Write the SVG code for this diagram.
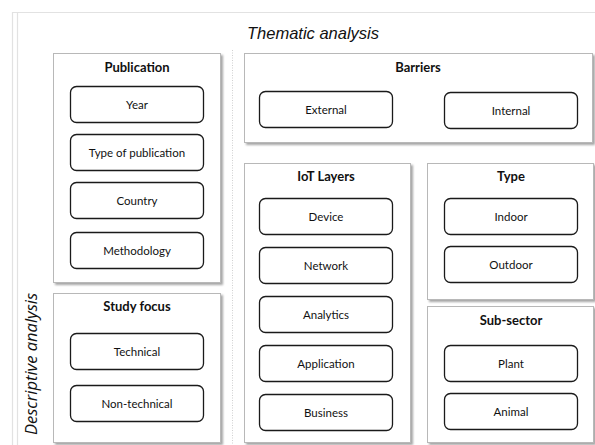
<svg xmlns="http://www.w3.org/2000/svg" width="595" height="445" viewBox="0 0 595 445">
<defs>
<filter id="sh" x="-10%" y="-10%" width="130%" height="130%">
<feDropShadow dx="2" dy="2" stdDeviation="1.2" flood-color="#000" flood-opacity="0.35"/>
</filter>
<style>
.panel{fill:#fff;stroke:#b8b8b8;stroke-width:1;filter:url(#sh)}
.item{fill:#fff;stroke:#1a1a1a;stroke-width:1.3}
.ttl{font-family:Lato,"Open Sans",sans-serif;font-weight:bold;font-size:13px;text-anchor:middle;fill:#111}
.lbl{font-family:Lato,"Open Sans",sans-serif;font-size:11.5px;text-anchor:middle;fill:#111}
.head{font-family:"Liberation Sans",Arial,sans-serif;font-style:italic;font-size:16.5px;text-anchor:middle;fill:#111}
.head2{font-family:"Open Sans",Lato,sans-serif;font-style:italic;font-size:16.5px;text-anchor:middle;fill:#111}
.frame{stroke:#e2e2e2;stroke-width:1.2;fill:none}
</style>
</defs>
<rect width="595" height="445" fill="#fff"/>
<g id="frame">
<line class="frame" x1="12" y1="12.5" x2="595" y2="12.5"/>
<line class="frame" x1="12.5" y1="12" x2="12.5" y2="445"/>
<line class="frame" x1="17.5" y1="12" x2="17.5" y2="445"/>
<line x1="232.5" y1="50" x2="232.5" y2="445" stroke="#d0d0d0" stroke-width="1" stroke-dasharray="1,1.5"/>
</g>
<text class="head" x="313" y="39">Thematic analysis</text>
<text class="head2" transform="translate(37,364) rotate(-90)">Descriptive analysis</text>

<g id="publication">
<rect class="panel" x="53.5" y="53.5" width="167" height="229"/>
<text class="ttl" x="137" y="72">Publication</text>
<rect class="item" x="70.5" y="86.5" width="133" height="36" rx="6"/>
<text class="lbl" x="137" y="108.5">Year</text>
<rect class="item" x="70.5" y="134.5" width="133" height="36" rx="6"/>
<text class="lbl" x="137" y="156.5">Type of publication</text>
<rect class="item" x="70.5" y="182.5" width="133" height="36" rx="6"/>
<text class="lbl" x="137" y="204.5">Country</text>
<rect class="item" x="70.5" y="232.5" width="133" height="36" rx="6"/>
<text class="lbl" x="137" y="254.5">Methodology</text>
</g>

<g id="study-focus">
<rect class="panel" x="53.5" y="293.5" width="167" height="149"/>
<text class="ttl" x="137" y="311">Study focus</text>
<rect class="item" x="70.5" y="333.5" width="133" height="36" rx="6"/>
<text class="lbl" x="137" y="355.5">Technical</text>
<rect class="item" x="70.5" y="385.5" width="133" height="36" rx="6"/>
<text class="lbl" x="137" y="407.5">Non-technical</text>
</g>

<g id="barriers">
<rect class="panel" x="244.5" y="53.5" width="348" height="89"/>
<text class="ttl" x="418" y="72">Barriers</text>
<rect class="item" x="259.5" y="91.5" width="133" height="36" rx="6"/>
<text class="lbl" x="326" y="113.5">External</text>
<rect class="item" x="444.5" y="92.5" width="133" height="36" rx="6"/>
<text class="lbl" x="511" y="114.5">Internal</text>
</g>

<g id="iot-layers">
<rect class="panel" x="244.5" y="163.5" width="166" height="279"/>
<text class="ttl" x="326" y="181">IoT Layers</text>
<rect class="item" x="259.5" y="198.5" width="133" height="36" rx="6"/>
<text class="lbl" x="326" y="220.5">Device</text>
<rect class="item" x="259.5" y="247.5" width="133" height="36" rx="6"/>
<text class="lbl" x="326" y="269.5">Network</text>
<rect class="item" x="259.5" y="296.5" width="133" height="36" rx="6"/>
<text class="lbl" x="326" y="318.5">Analytics</text>
<rect class="item" x="259.5" y="345.5" width="133" height="36" rx="6"/>
<text class="lbl" x="326" y="367.5">Application</text>
<rect class="item" x="259.5" y="394.5" width="133" height="36" rx="6"/>
<text class="lbl" x="326" y="416.5">Business</text>
</g>

<g id="type">
<rect class="panel" x="427.5" y="163.5" width="166" height="136"/>
<text class="ttl" x="511" y="181">Type</text>
<rect class="item" x="444.5" y="198.5" width="133" height="36" rx="6"/>
<text class="lbl" x="511" y="220.5">Indoor</text>
<rect class="item" x="444.5" y="246.5" width="133" height="36" rx="6"/>
<text class="lbl" x="511" y="268.5">Outdoor</text>
</g>

<g id="sub-sector">
<rect class="panel" x="427.5" y="306.5" width="166" height="136"/>
<text class="ttl" x="511" y="325">Sub-sector</text>
<rect class="item" x="444.5" y="345.5" width="133" height="36" rx="6"/>
<text class="lbl" x="511" y="367.5">Plant</text>
<rect class="item" x="444.5" y="393.5" width="133" height="36" rx="6"/>
<text class="lbl" x="511" y="415.5">Animal</text>
</g>
</svg>
